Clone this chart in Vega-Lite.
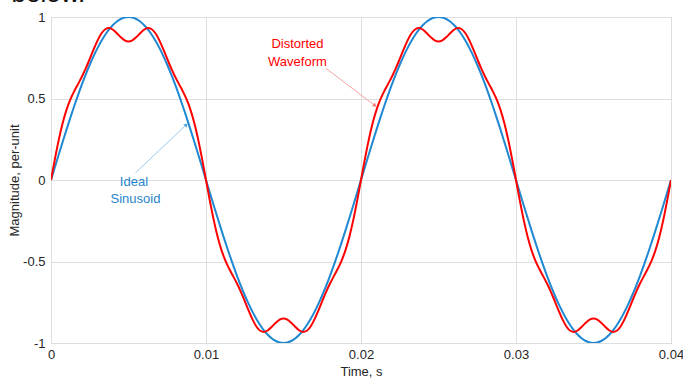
{
  "$schema": "https://vega.github.io/schema/vega-lite/v6.json",
  "width": 620,
  "height": 326,
  "autosize": "none",
  "padding": {"left": 51, "top": 17, "right": 12, "bottom": 39},
  "background": "white",
  "datasets": {
    "wave": [
      {"t":0,"i":0,"d":0},{"t":0.00025,"i":0.0785,"d":0.1279},{"t":0.0005,"i":0.1564,"d":0.2464},{"t":0.00075,"i":0.2334,"d":0.3482},{"t":0.001,"i":0.309,"d":0.4304},{"t":0.00125,"i":0.3827,"d":0.4942},{"t":0.0015,"i":0.454,"d":0.5449},{"t":0.00175,"i":0.5225,"d":0.5897},{"t":0.002,"i":0.5878,"d":0.6353},{"t":0.00225,"i":0.6494,"d":0.6861},{"t":0.0025,"i":0.7071,"d":0.7425},{"t":0.00275,"i":0.7604,"d":0.801},{"t":0.003,"i":0.809,"d":0.8554},{"t":0.00325,"i":0.8526,"d":0.8985},{"t":0.0035,"i":0.891,"d":0.9248},{"t":0.00375,"i":0.9239,"d":0.9318},{"t":0.004,"i":0.9511,"d":0.9217},{"t":0.00425,"i":0.9724,"d":0.9003},{"t":0.0045,"i":0.9877,"d":0.8759},{"t":0.00475,"i":0.9969,"d":0.8571},{"t":0.005,"i":1,"d":0.85},{"t":0.00525,"i":0.9969,"d":0.8571},{"t":0.0055,"i":0.9877,"d":0.8759},{"t":0.00575,"i":0.9724,"d":0.9003},{"t":0.006,"i":0.9511,"d":0.9217},{"t":0.00625,"i":0.9239,"d":0.9318},{"t":0.0065,"i":0.891,"d":0.9248},{"t":0.00675,"i":0.8526,"d":0.8985},{"t":0.007,"i":0.809,"d":0.8554},{"t":0.00725,"i":0.7604,"d":0.801},{"t":0.0075,"i":0.7071,"d":0.7425},{"t":0.00775,"i":0.6494,"d":0.6861},{"t":0.008,"i":0.5878,"d":0.6353},{"t":0.00825,"i":0.5225,"d":0.5897},{"t":0.0085,"i":0.454,"d":0.5449},{"t":0.00875,"i":0.3827,"d":0.4942},{"t":0.009,"i":0.309,"d":0.4304},{"t":0.00925,"i":0.2334,"d":0.3482},{"t":0.0095,"i":0.1564,"d":0.2464},{"t":0.00975,"i":0.0785,"d":0.1279},
      {"t":0.01,"i":0,"d":0},{"t":0.01025,"i":-0.0785,"d":-0.1279},{"t":0.0105,"i":-0.1564,"d":-0.2464},{"t":0.01075,"i":-0.2334,"d":-0.3482},{"t":0.011,"i":-0.309,"d":-0.4304},{"t":0.01125,"i":-0.3827,"d":-0.4942},{"t":0.0115,"i":-0.454,"d":-0.5449},{"t":0.01175,"i":-0.5225,"d":-0.5897},{"t":0.012,"i":-0.5878,"d":-0.6353},{"t":0.01225,"i":-0.6494,"d":-0.6861},{"t":0.0125,"i":-0.7071,"d":-0.7425},{"t":0.01275,"i":-0.7604,"d":-0.801},{"t":0.013,"i":-0.809,"d":-0.8554},{"t":0.01325,"i":-0.8526,"d":-0.8985},{"t":0.0135,"i":-0.891,"d":-0.9248},{"t":0.01375,"i":-0.9239,"d":-0.9318},{"t":0.014,"i":-0.9511,"d":-0.9217},{"t":0.01425,"i":-0.9724,"d":-0.9003},{"t":0.0145,"i":-0.9877,"d":-0.8759},{"t":0.01475,"i":-0.9969,"d":-0.8571},{"t":0.015,"i":-1,"d":-0.85},{"t":0.01525,"i":-0.9969,"d":-0.8571},{"t":0.0155,"i":-0.9877,"d":-0.8759},{"t":0.01575,"i":-0.9724,"d":-0.9003},{"t":0.016,"i":-0.9511,"d":-0.9217},{"t":0.01625,"i":-0.9239,"d":-0.9318},{"t":0.0165,"i":-0.891,"d":-0.9248},{"t":0.01675,"i":-0.8526,"d":-0.8985},{"t":0.017,"i":-0.809,"d":-0.8554},{"t":0.01725,"i":-0.7604,"d":-0.801},{"t":0.0175,"i":-0.7071,"d":-0.7425},{"t":0.01775,"i":-0.6494,"d":-0.6861},{"t":0.018,"i":-0.5878,"d":-0.6353},{"t":0.01825,"i":-0.5225,"d":-0.5897},{"t":0.0185,"i":-0.454,"d":-0.5449},{"t":0.01875,"i":-0.3827,"d":-0.4942},{"t":0.019,"i":-0.309,"d":-0.4304},{"t":0.01925,"i":-0.2334,"d":-0.3482},{"t":0.0195,"i":-0.1564,"d":-0.2464},{"t":0.01975,"i":-0.0785,"d":-0.1279},
      {"t":0.02,"i":0,"d":0},{"t":0.02025,"i":0.0785,"d":0.1279},{"t":0.0205,"i":0.1564,"d":0.2464},{"t":0.02075,"i":0.2334,"d":0.3482},{"t":0.021,"i":0.309,"d":0.4304},{"t":0.02125,"i":0.3827,"d":0.4942},{"t":0.0215,"i":0.454,"d":0.5449},{"t":0.02175,"i":0.5225,"d":0.5897},{"t":0.022,"i":0.5878,"d":0.6353},{"t":0.02225,"i":0.6494,"d":0.6861},{"t":0.0225,"i":0.7071,"d":0.7425},{"t":0.02275,"i":0.7604,"d":0.801},{"t":0.023,"i":0.809,"d":0.8554},{"t":0.02325,"i":0.8526,"d":0.8985},{"t":0.0235,"i":0.891,"d":0.9248},{"t":0.02375,"i":0.9239,"d":0.9318},{"t":0.024,"i":0.9511,"d":0.9217},{"t":0.02425,"i":0.9724,"d":0.9003},{"t":0.0245,"i":0.9877,"d":0.8759},{"t":0.02475,"i":0.9969,"d":0.8571},{"t":0.025,"i":1,"d":0.85},{"t":0.02525,"i":0.9969,"d":0.8571},{"t":0.0255,"i":0.9877,"d":0.8759},{"t":0.02575,"i":0.9724,"d":0.9003},{"t":0.026,"i":0.9511,"d":0.9217},{"t":0.02625,"i":0.9239,"d":0.9318},{"t":0.0265,"i":0.891,"d":0.9248},{"t":0.02675,"i":0.8526,"d":0.8985},{"t":0.027,"i":0.809,"d":0.8554},{"t":0.02725,"i":0.7604,"d":0.801},{"t":0.0275,"i":0.7071,"d":0.7425},{"t":0.02775,"i":0.6494,"d":0.6861},{"t":0.028,"i":0.5878,"d":0.6353},{"t":0.02825,"i":0.5225,"d":0.5897},{"t":0.0285,"i":0.454,"d":0.5449},{"t":0.02875,"i":0.3827,"d":0.4942},{"t":0.029,"i":0.309,"d":0.4304},{"t":0.02925,"i":0.2334,"d":0.3482},{"t":0.0295,"i":0.1564,"d":0.2464},{"t":0.02975,"i":0.0785,"d":0.1279},
      {"t":0.03,"i":0,"d":0},{"t":0.03025,"i":-0.0785,"d":-0.1279},{"t":0.0305,"i":-0.1564,"d":-0.2464},{"t":0.03075,"i":-0.2334,"d":-0.3482},{"t":0.031,"i":-0.309,"d":-0.4304},{"t":0.03125,"i":-0.3827,"d":-0.4942},{"t":0.0315,"i":-0.454,"d":-0.5449},{"t":0.03175,"i":-0.5225,"d":-0.5897},{"t":0.032,"i":-0.5878,"d":-0.6353},{"t":0.03225,"i":-0.6494,"d":-0.6861},{"t":0.0325,"i":-0.7071,"d":-0.7425},{"t":0.03275,"i":-0.7604,"d":-0.801},{"t":0.033,"i":-0.809,"d":-0.8554},{"t":0.03325,"i":-0.8526,"d":-0.8985},{"t":0.0335,"i":-0.891,"d":-0.9248},{"t":0.03375,"i":-0.9239,"d":-0.9318},{"t":0.034,"i":-0.9511,"d":-0.9217},{"t":0.03425,"i":-0.9724,"d":-0.9003},{"t":0.0345,"i":-0.9877,"d":-0.8759},{"t":0.03475,"i":-0.9969,"d":-0.8571},{"t":0.035,"i":-1,"d":-0.85},{"t":0.03525,"i":-0.9969,"d":-0.8571},{"t":0.0355,"i":-0.9877,"d":-0.8759},{"t":0.03575,"i":-0.9724,"d":-0.9003},{"t":0.036,"i":-0.9511,"d":-0.9217},{"t":0.03625,"i":-0.9239,"d":-0.9318},{"t":0.0365,"i":-0.891,"d":-0.9248},{"t":0.03675,"i":-0.8526,"d":-0.8985},{"t":0.037,"i":-0.809,"d":-0.8554},{"t":0.03725,"i":-0.7604,"d":-0.801},{"t":0.0375,"i":-0.7071,"d":-0.7425},{"t":0.03775,"i":-0.6494,"d":-0.6861},{"t":0.038,"i":-0.5878,"d":-0.6353},{"t":0.03825,"i":-0.5225,"d":-0.5897},{"t":0.0385,"i":-0.454,"d":-0.5449},{"t":0.03875,"i":-0.3827,"d":-0.4942},{"t":0.039,"i":-0.309,"d":-0.4304},{"t":0.03925,"i":-0.2334,"d":-0.3482},{"t":0.0395,"i":-0.1564,"d":-0.2464},{"t":0.03975,"i":-0.0785,"d":-0.1279},
      {"t":0.04,"i":0,"d":0}
    ],
    "arrows": [
      {"t":0.01775,"v":0.684,"t2":0.02087,"v2":0.459,"c":"red"},
      {"t":0.00545,"v":0.044,"t2":0.0087,"v2":0.336,"c":"blue"}
    ],
    "heads": [
      {"t":0.02087,"v":0.459,"a":127,"c":"red"},
      {"t":0.0087,"v":0.336,"a":46,"c":"blue"}
    ],
    "labels": [
      {"t":0.0159,"v":0.833,"txt":"Distorted","c":"red","al":"center"},
      {"t":0.0159,"v":0.722,"txt":"Waveform","c":"red","al":"center"},
      {"t":0.00535,"v":-0.013,"txt":"Ideal","c":"blue","al":"right"},
      {"t":0.00545,"v":-0.117,"txt":"Sinusoid","c":"blue","al":"right"}
    ],
    "top": [{"t":-0.00255,"v":1.09,"txt":"below."}]
  },
  "layer": [
    {
      "data": {"name": "wave"},
      "mark": {"type": "line", "color": "#1f88d2", "strokeWidth": 2, "interpolate": "monotone", "clip": true},
      "encoding": {
        "x": {"field": "t", "type": "quantitative", "scale": {"domain": [0, 0.04], "nice": false, "zero": false}, "title": "Time, s",
              "axis": {"values": [0, 0.01, 0.02, 0.03, 0.04], "labelExpr": "'' + datum.value", "labelFlush": false, "labelPadding": 5, "titlePadding": 4}},
        "y": {"field": "i", "type": "quantitative", "scale": {"domain": [-1, 1], "nice": false, "zero": false}, "title": "Magnitude, per-unit",
              "axis": {"values": [-1, -0.5, 0, 0.5, 1], "labelExpr": "'' + datum.value", "labelPadding": 6, "titlePadding": 1}}
      }
    },
    {
      "data": {"name": "wave"},
      "mark": {"type": "line", "color": "#ff0000", "strokeWidth": 2, "interpolate": "monotone", "clip": true},
      "encoding": {
        "x": {"field": "t", "type": "quantitative", "title": "Time, s"},
        "y": {"field": "d", "type": "quantitative", "title": "Magnitude, per-unit"}
      }
    },
    {
      "data": {"name": "arrows"},
      "mark": {"type": "rule", "strokeWidth": 1},
      "encoding": {
        "x": {"field": "t", "type": "quantitative", "title": "Time, s"},
        "y": {"field": "v", "type": "quantitative", "title": "Magnitude, per-unit"},
        "x2": {"field": "t2"},
        "y2": {"field": "v2"},
        "color": {"field": "c", "type": "nominal", "scale": {"domain": ["red", "blue"], "range": ["#f6a3a3", "#9ccdec"]}, "legend": null}
      }
    },
    {
      "data": {"name": "heads"},
      "mark": {"type": "point", "shape": "triangle", "filled": true, "size": 22, "opacity": 1},
      "encoding": {
        "x": {"field": "t", "type": "quantitative", "title": "Time, s"},
        "y": {"field": "v", "type": "quantitative", "title": "Magnitude, per-unit"},
        "angle": {"field": "a", "type": "quantitative", "scale": null},
        "color": {"field": "c", "type": "nominal", "scale": {"domain": ["red", "blue"], "range": ["#f08080", "#5aa9dc"]}, "legend": null}
      }
    },
    {
      "data": {"name": "labels"},
      "mark": {"type": "text", "font": "Liberation Sans", "fontSize": 13, "baseline": "middle"},
      "encoding": {
        "x": {"field": "t", "type": "quantitative", "title": "Time, s"},
        "y": {"field": "v", "type": "quantitative", "title": "Magnitude, per-unit"},
        "text": {"field": "txt"},
        "align": {"field": "al", "type": "nominal", "scale": null},
        "color": {"field": "c", "type": "nominal", "scale": {"domain": ["red", "blue"], "range": ["#ff0000", "#1f84cc"]}, "legend": null}
      }
    },
    {
      "data": {"name": "top"},
      "mark": {"type": "text", "font": "Liberation Sans", "fontSize": 26, "align": "left", "baseline": "alphabetic", "color": "#111111", "clip": false},
      "encoding": {
        "x": {"field": "t", "type": "quantitative", "title": "Time, s"},
        "y": {"field": "v", "type": "quantitative", "title": "Magnitude, per-unit"},
        "text": {"field": "txt"}
      }
    }
  ],
  "resolve": {"scale": {"color": "independent"}},
  "config": {
    "view": {"stroke": "#a8a8a8", "strokeWidth": 1},
    "axis": {
      "domain": false, "ticks": false, "grid": true, "gridColor": "#dedede", "gridWidth": 1,
      "labelFont": "Liberation Sans", "labelFontSize": 13, "labelColor": "#262626",
      "titleFont": "Liberation Sans", "titleFontSize": 13, "titleFontWeight": "normal", "titleColor": "#262626"
    }
  }
}
